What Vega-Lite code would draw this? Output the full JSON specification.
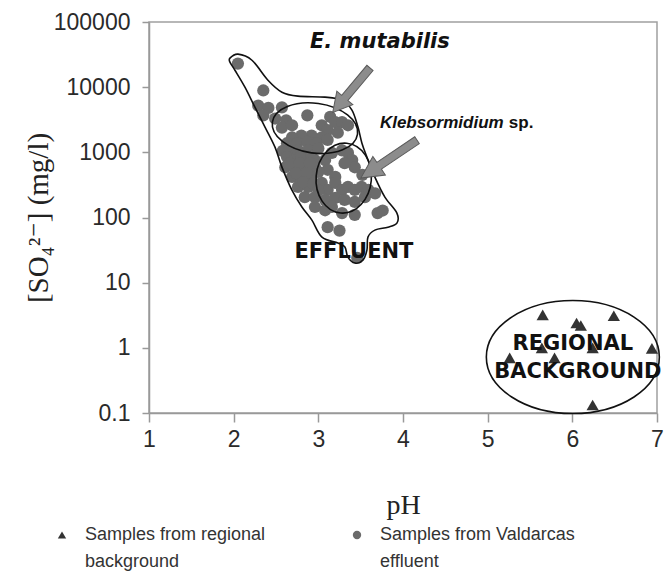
{
  "$schema": "https://vega.github.io/schema/vega-lite/v6.json",
  "width": 508,
  "height": 391,
  "autosize": {"type": "none"},
  "padding": {"left": 149, "top": 22, "right": 10, "bottom": 169},
  "background": "white",
  "config": {
    "view": {"stroke": "#a0a0a0", "strokeWidth": 1.5},
    "axis": {
      "grid": false,
      "domainColor": "#999999",
      "domainWidth": 1.5,
      "tickColor": "#999999",
      "tickWidth": 1.5,
      "labelFont": "Liberation Sans",
      "labelFontSize": 23,
      "labelColor": "#2a2a2a",
      "titleFont": "Liberation Serif, DejaVu Serif, serif",
      "titleFontWeight": "normal",
      "titleColor": "#222222"
    },
    "style": {"guide-label": {"lineHeight": 27}}
  },
  "layer": [
    {
      "data": {"values": [
        {"group": "regional", "pH": 5.65, "SO4": 3.2},
        {"group": "regional", "pH": 6.05, "SO4": 2.4},
        {"group": "regional", "pH": 6.1, "SO4": 2.2},
        {"group": "regional", "pH": 6.49, "SO4": 3.1},
        {"group": "regional", "pH": 5.64, "SO4": 1.0},
        {"group": "regional", "pH": 6.24, "SO4": 1.0},
        {"group": "regional", "pH": 6.94, "SO4": 0.98},
        {"group": "regional", "pH": 5.26, "SO4": 0.7},
        {"group": "regional", "pH": 5.79, "SO4": 0.7},
        {"group": "regional", "pH": 6.24, "SO4": 0.133},
        {"group": "effluent", "pH": 2.05, "SO4": 23000},
        {"group": "effluent", "pH": 2.35, "SO4": 8900},
        {"group": "effluent", "pH": 2.29, "SO4": 5200},
        {"group": "effluent", "pH": 2.41, "SO4": 4800},
        {"group": "effluent", "pH": 2.57, "SO4": 4900},
        {"group": "effluent", "pH": 2.35, "SO4": 3700},
        {"group": "effluent", "pH": 2.49, "SO4": 3300},
        {"group": "effluent", "pH": 2.62, "SO4": 3100},
        {"group": "effluent", "pH": 2.57, "SO4": 2400},
        {"group": "effluent", "pH": 2.69, "SO4": 2600},
        {"group": "effluent", "pH": 2.87, "SO4": 3700},
        {"group": "effluent", "pH": 3.04, "SO4": 2600},
        {"group": "effluent", "pH": 3.14, "SO4": 3500},
        {"group": "effluent", "pH": 3.2, "SO4": 2900},
        {"group": "effluent", "pH": 3.28, "SO4": 2900},
        {"group": "effluent", "pH": 3.35, "SO4": 2600},
        {"group": "effluent", "pH": 3.11, "SO4": 2200},
        {"group": "effluent", "pH": 3.23, "SO4": 2000},
        {"group": "effluent", "pH": 3.04, "SO4": 1700},
        {"group": "effluent", "pH": 2.92, "SO4": 1800},
        {"group": "effluent", "pH": 2.8, "SO4": 1800},
        {"group": "effluent", "pH": 2.69, "SO4": 1700},
        {"group": "effluent", "pH": 2.63, "SO4": 1380},
        {"group": "effluent", "pH": 2.75, "SO4": 1380},
        {"group": "effluent", "pH": 2.87, "SO4": 1450},
        {"group": "effluent", "pH": 2.98, "SO4": 1380},
        {"group": "effluent", "pH": 3.11, "SO4": 1550},
        {"group": "effluent", "pH": 2.58, "SO4": 1050},
        {"group": "effluent", "pH": 2.68, "SO4": 1000},
        {"group": "effluent", "pH": 2.76, "SO4": 1070},
        {"group": "effluent", "pH": 2.88, "SO4": 1070},
        {"group": "effluent", "pH": 3.0, "SO4": 1150},
        {"group": "effluent", "pH": 2.63, "SO4": 850},
        {"group": "effluent", "pH": 2.72, "SO4": 760},
        {"group": "effluent", "pH": 2.84, "SO4": 760},
        {"group": "effluent", "pH": 2.96, "SO4": 760},
        {"group": "effluent", "pH": 2.8, "SO4": 900},
        {"group": "effluent", "pH": 2.92, "SO4": 880},
        {"group": "effluent", "pH": 2.61, "SO4": 590},
        {"group": "effluent", "pH": 2.72, "SO4": 575},
        {"group": "effluent", "pH": 2.84, "SO4": 575},
        {"group": "effluent", "pH": 2.96, "SO4": 590},
        {"group": "effluent", "pH": 2.66, "SO4": 680},
        {"group": "effluent", "pH": 2.78, "SO4": 680},
        {"group": "effluent", "pH": 2.9, "SO4": 680},
        {"group": "effluent", "pH": 3.08, "SO4": 760},
        {"group": "effluent", "pH": 3.16, "SO4": 980},
        {"group": "effluent", "pH": 3.28, "SO4": 1070},
        {"group": "effluent", "pH": 3.35, "SO4": 980},
        {"group": "effluent", "pH": 3.4, "SO4": 760},
        {"group": "effluent", "pH": 3.43, "SO4": 590},
        {"group": "effluent", "pH": 3.31, "SO4": 680},
        {"group": "effluent", "pH": 3.11, "SO4": 540},
        {"group": "effluent", "pH": 3.0, "SO4": 500},
        {"group": "effluent", "pH": 3.2, "SO4": 420},
        {"group": "effluent", "pH": 3.52, "SO4": 450},
        {"group": "effluent", "pH": 2.69, "SO4": 420},
        {"group": "effluent", "pH": 2.8, "SO4": 400},
        {"group": "effluent", "pH": 2.92, "SO4": 420},
        {"group": "effluent", "pH": 2.74, "SO4": 480},
        {"group": "effluent", "pH": 2.86, "SO4": 480},
        {"group": "effluent", "pH": 2.76, "SO4": 295},
        {"group": "effluent", "pH": 2.88, "SO4": 295},
        {"group": "effluent", "pH": 2.82, "SO4": 350},
        {"group": "effluent", "pH": 2.94, "SO4": 330},
        {"group": "effluent", "pH": 3.04, "SO4": 340},
        {"group": "effluent", "pH": 3.11, "SO4": 265},
        {"group": "effluent", "pH": 3.2, "SO4": 340},
        {"group": "effluent", "pH": 3.28, "SO4": 265},
        {"group": "effluent", "pH": 3.35, "SO4": 295},
        {"group": "effluent", "pH": 3.43, "SO4": 265},
        {"group": "effluent", "pH": 3.51, "SO4": 295},
        {"group": "effluent", "pH": 3.59, "SO4": 265},
        {"group": "effluent", "pH": 3.67, "SO4": 235},
        {"group": "effluent", "pH": 3.0, "SO4": 260},
        {"group": "effluent", "pH": 2.84, "SO4": 205},
        {"group": "effluent", "pH": 2.96, "SO4": 205},
        {"group": "effluent", "pH": 3.08, "SO4": 186},
        {"group": "effluent", "pH": 3.2, "SO4": 200},
        {"group": "effluent", "pH": 3.31, "SO4": 186},
        {"group": "effluent", "pH": 3.43, "SO4": 174},
        {"group": "effluent", "pH": 3.55, "SO4": 205},
        {"group": "effluent", "pH": 2.96, "SO4": 145},
        {"group": "effluent", "pH": 3.08, "SO4": 129},
        {"group": "effluent", "pH": 3.16, "SO4": 145},
        {"group": "effluent", "pH": 3.28, "SO4": 117},
        {"group": "effluent", "pH": 3.43, "SO4": 110},
        {"group": "effluent", "pH": 3.7, "SO4": 117},
        {"group": "effluent", "pH": 3.11, "SO4": 71},
        {"group": "effluent", "pH": 3.25, "SO4": 63},
        {"group": "effluent", "pH": 3.46, "SO4": 24},
        {"group": "effluent", "pH": 3.76, "SO4": 128}
      ]},
      "mark": {"type": "point", "filled": true, "opacity": 1, "size": 150},
      "encoding": {
        "x": {
          "field": "pH", "type": "quantitative",
          "scale": {"domain": [1, 7], "nice": false, "zero": false},
          "axis": {"values": [1, 2, 3, 4, 5, 6, 7], "format": "d", "title": "pH", "titleFontSize": 28, "tickSize": 9, "labelPadding": 6, "titlePadding": 40, "labelFlush": false}
        },
        "y": {
          "field": "SO4", "type": "quantitative",
          "scale": {"type": "log", "domain": [0.1, 100000], "nice": false},
          "axis": {"values": [0.1, 1, 10, 100, 1000, 10000, 100000], "format": "~g", "title": "[SO₄²⁻] (mg/l)", "titleFontSize": 29, "tickSize": 7, "labelPadding": 12, "titlePadding": 0, "labelFlush": false}
        },
        "color": {
          "field": "group", "type": "nominal",
          "scale": {"domain": ["regional", "effluent"], "range": ["#333333", "#6b6b6b"]},
          "legend": {"orient": "none", "legendX": -96, "legendY": 504, "direction": "horizontal", "title": null,
            "labelExpr": "datum.label == 'regional' ? ['Samples from regional', 'background'] : ['Samples from Valdarcas', 'effluent']",
            "labelFont": "Liberation Sans", "labelFontSize": 18, "labelColor": "#333333", "labelLimit": 400,
            "symbolSize": 70, "labelOffset": 14, "columnPadding": 82}
        },
        "shape": {
          "field": "group", "type": "nominal",
          "scale": {"domain": ["regional", "effluent"], "range": ["triangle-up", "circle"]},
          "legend": {"orient": "none", "legendX": -96, "legendY": 504, "direction": "horizontal", "title": null,
            "labelExpr": "datum.label == 'regional' ? ['Samples from regional', 'background'] : ['Samples from Valdarcas', 'effluent']",
            "labelFont": "Liberation Sans", "labelFontSize": 18, "labelColor": "#333333", "labelLimit": 400,
            "symbolSize": 70, "labelOffset": 14, "columnPadding": 82}
        }
      }
    },
    {
      "data": {"values": [
        {"i": 1, "pH": 1.956, "SO4": 27900},
        {"i": 2, "pH": 2.051, "SO4": 32100},
        {"i": 3, "pH": 2.216, "SO4": 25900},
        {"i": 4, "pH": 2.405, "SO4": 12800},
        {"i": 5, "pH": 2.57, "SO4": 8380},
        {"i": 6, "pH": 2.759, "SO4": 7280},
        {"i": 7, "pH": 3.078, "SO4": 7030},
        {"i": 8, "pH": 3.279, "SO4": 6320},
        {"i": 9, "pH": 3.397, "SO4": 4440},
        {"i": 10, "pH": 3.468, "SO4": 2440},
        {"i": 11, "pH": 3.515, "SO4": 1380},
        {"i": 12, "pH": 3.574, "SO4": 844},
        {"i": 13, "pH": 3.668, "SO4": 417},
        {"i": 14, "pH": 3.786, "SO4": 206},
        {"i": 15, "pH": 3.928, "SO4": 117},
        {"i": 16, "pH": 3.928, "SO4": 82},
        {"i": 17, "pH": 3.822, "SO4": 71},
        {"i": 18, "pH": 3.668, "SO4": 64},
        {"i": 19, "pH": 3.586, "SO4": 50},
        {"i": 20, "pH": 3.574, "SO4": 31.6},
        {"i": 21, "pH": 3.527, "SO4": 22.2},
        {"i": 22, "pH": 3.432, "SO4": 20},
        {"i": 23, "pH": 3.349, "SO4": 24.7},
        {"i": 24, "pH": 3.314, "SO4": 35.2},
        {"i": 25, "pH": 3.231, "SO4": 40.5},
        {"i": 26, "pH": 3.043, "SO4": 50},
        {"i": 27, "pH": 2.924, "SO4": 91},
        {"i": 28, "pH": 2.806, "SO4": 145},
        {"i": 29, "pH": 2.688, "SO4": 263},
        {"i": 30, "pH": 2.57, "SO4": 593},
        {"i": 31, "pH": 2.488, "SO4": 1200},
        {"i": 32, "pH": 2.37, "SO4": 2440},
        {"i": 33, "pH": 2.251, "SO4": 4930},
        {"i": 34, "pH": 2.133, "SO4": 10000},
        {"i": 35, "pH": 2.015, "SO4": 18200},
        {"i": 36, "pH": 1.956, "SO4": 24200}
      ]},
      "mark": {"type": "line", "color": "#111111", "strokeWidth": 1.6, "interpolate": "cardinal-closed"},
      "encoding": {
        "x": {"field": "pH", "type": "quantitative"},
        "y": {"field": "SO4", "type": "quantitative"},
        "order": {"field": "i", "type": "quantitative"}
      }
    },
    {
      "data": {"values": [{"pH": 2.96, "SO4": 2350}]},
      "mark": {"type": "point", "shape": "M -1 0 A 1 0.58 0 1 1 1 0 A 1 0.58 0 1 1 -1 0 Z", "size": 7396, "angle": 8, "filled": false, "opacity": 1, "color": "#111111", "strokeWidth": 1.6},
      "encoding": {"x": {"field": "pH", "type": "quantitative"}, "y": {"field": "SO4", "type": "quantitative"}}
    },
    {
      "data": {"values": [{"pH": 3.3, "SO4": 402}]},
      "mark": {"type": "point", "shape": "M -1 0 A 1 0.79 0 1 1 1 0 A 1 0.79 0 1 1 -1 0 Z", "size": 4900, "angle": 95, "filled": false, "opacity": 1, "color": "#111111", "strokeWidth": 1.6},
      "encoding": {"x": {"field": "pH", "type": "quantitative"}, "y": {"field": "SO4", "type": "quantitative"}}
    },
    {
      "data": {"values": [{"pH": 6.006, "SO4": 0.722}]},
      "mark": {"type": "point", "shape": "M -1 0 A 1 0.653 0 1 1 1 0 A 1 0.653 0 1 1 -1 0 Z", "size": 29929, "angle": 0, "filled": false, "opacity": 1, "color": "#111111", "strokeWidth": 1.6},
      "encoding": {"x": {"field": "pH", "type": "quantitative"}, "y": {"field": "SO4", "type": "quantitative"}}
    },
    {
      "data": {"values": [{"pH": 3.39, "SO4": 9000}]},
      "mark": {"type": "point", "shape": "M -0.14 1 L -0.14 -0.35 L -0.36 -0.35 L 0 -1 L 0.36 -0.35 L 0.14 -0.35 L 0.14 1 Z", "size": 3364, "angle": 220, "filled": true, "opacity": 1, "fill": "#8c8c8c", "stroke": "#5a5a5a", "strokeWidth": 1},
      "encoding": {"x": {"field": "pH", "type": "quantitative"}, "y": {"field": "SO4", "type": "quantitative"}}
    },
    {
      "data": {"values": [{"pH": 3.834, "SO4": 787}]},
      "mark": {"type": "point", "shape": "M -0.12 1 L -0.12 -0.35 L -0.33 -0.35 L 0 -1 L 0.33 -0.35 L 0.12 -0.35 L 0.12 1 Z", "size": 4590, "angle": 236, "filled": true, "opacity": 1, "fill": "#8c8c8c", "stroke": "#5a5a5a", "strokeWidth": 1},
      "encoding": {"x": {"field": "pH", "type": "quantitative"}, "y": {"field": "SO4", "type": "quantitative"}}
    },
    {
      "data": {"values": [{"label": "E. mutabilis", "pH": 3.727, "SO4": 39600}]},
      "mark": {"type": "text", "font": "DejaVu Sans", "fontSize": 21, "fontWeight": "bold", "fontStyle": "italic", "align": "center", "baseline": "alphabetic", "color": "#111111"},
      "encoding": {"x": {"field": "pH", "type": "quantitative"}, "y": {"field": "SO4", "type": "quantitative"}, "text": {"field": "label"}}
    },
    {
      "data": {"values": [{"label": "Klebsormidium", "pH": 3.727, "SO4": 2350}]},
      "mark": {"type": "text", "font": "Liberation Sans", "fontSize": 17, "fontWeight": "bold", "fontStyle": "italic", "align": "left", "baseline": "alphabetic", "color": "#111111"},
      "encoding": {"x": {"field": "pH", "type": "quantitative"}, "y": {"field": "SO4", "type": "quantitative"}, "text": {"field": "label"}}
    },
    {
      "data": {"values": [{"label": "sp.", "pH": 5.25, "SO4": 2350}]},
      "mark": {"type": "text", "font": "Liberation Sans", "fontSize": 17, "fontWeight": "bold", "align": "left", "baseline": "alphabetic", "color": "#111111"},
      "encoding": {"x": {"field": "pH", "type": "quantitative"}, "y": {"field": "SO4", "type": "quantitative"}, "text": {"field": "label"}}
    },
    {
      "data": {"values": [
        {"label": "EFFLUENT", "pH": 3.42, "SO4": 23.8},
        {"label": "REGIONAL", "pH": 6.006, "SO4": 0.925},
        {"label": "BACKGROUND", "pH": 6.065, "SO4": 0.344}
      ]},
      "mark": {"type": "text", "font": "DejaVu Sans", "fontSize": 21, "fontWeight": "bold", "align": "center", "baseline": "alphabetic", "color": "#111111"},
      "encoding": {"x": {"field": "pH", "type": "quantitative"}, "y": {"field": "SO4", "type": "quantitative"}, "text": {"field": "label"}}
    }
  ]
}
